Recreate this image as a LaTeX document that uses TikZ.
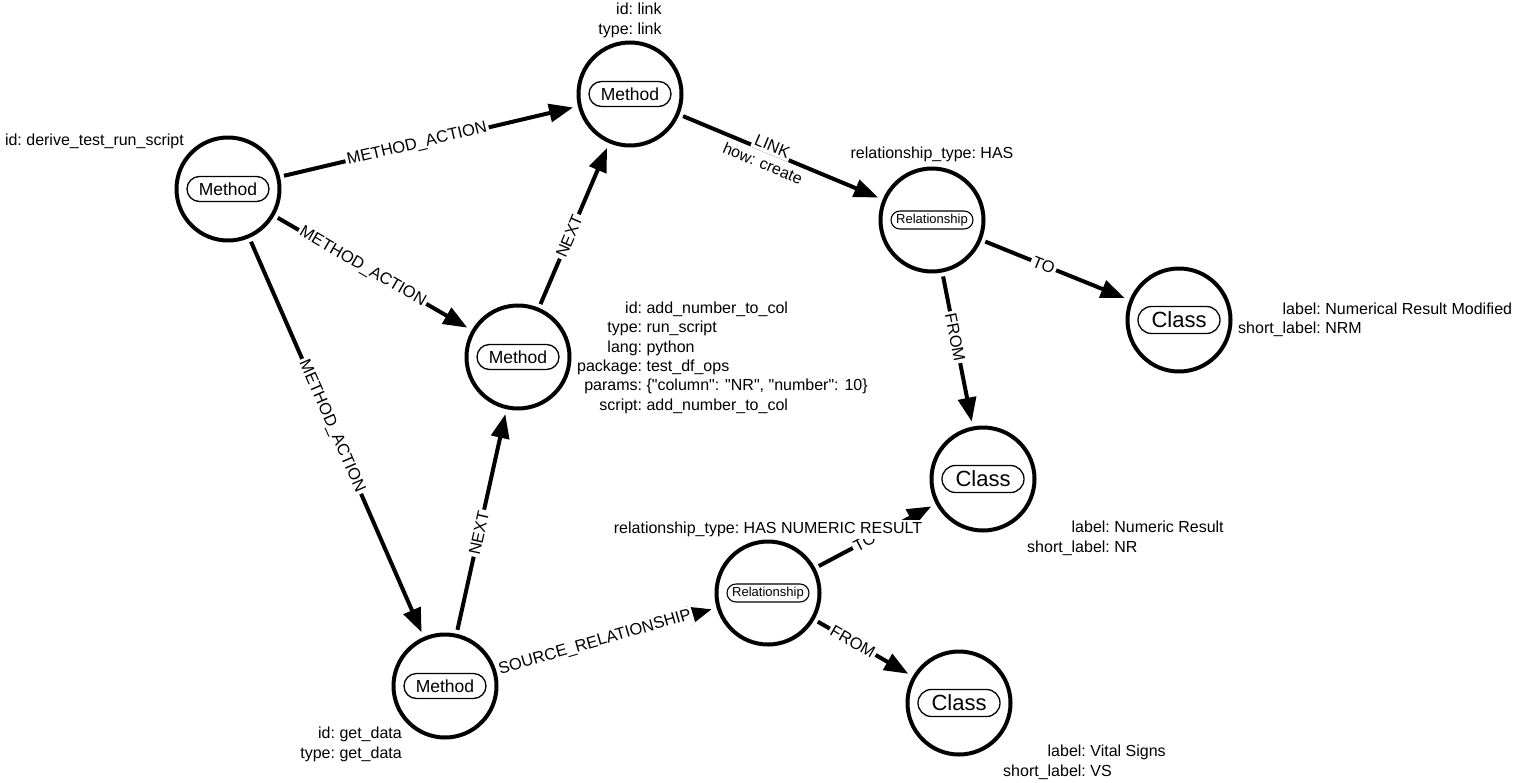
\documentclass[tikz,border=0pt]{standalone}
\usepackage{fontspec}
\setmainfont{Liberation Sans}[Ligatures=TeXOff]
\usetikzlibrary{arrows.meta,shapes.misc}

% property tables: keys right-aligned on the colon, values left-aligned
\newcommand\proptab[1]{\begin{tabular}{@{}r@{\ }l@{}}#1\end{tabular}}

\tikzset{
  ent/.style={circle, draw, line width=4pt, minimum size=103pt, inner sep=0pt},
  pill/.style={rounded rectangle, draw, line width=1.3pt, fill=white,
    minimum width=90pt, inner xsep=4pt, inner ysep=0pt},
  methodpill/.style={pill, minimum height=25pt, font=\fontsize{17.5}{20}\selectfont},
  classpill/.style={pill, minimum height=27pt, font=\fontsize{22}{24}\selectfont},
  relpill/.style={pill, minimum height=18pt, line width=1.1pt, font=\fontsize{13}{15}\selectfont},
  rel/.style={line width=4pt, -{Triangle[length=24pt,width=18pt]},
    shorten <=4pt, shorten >=5pt},
  elab/.style={sloped, fill=white, inner sep=2pt, font=\fontsize{16.5}{19}\selectfont},
  props/.style={inner sep=0pt, fill=white, font=\fontsize{16}{19.3}\selectfont},
}

\begin{document}
\begin{tikzpicture}[x=1pt,y=-1pt]
\useasboundingbox[fill=white] (0,0) rectangle (1518,782);

% entity circles
\node[ent] (A) at (228,189) {};
\node[ent] (B) at (630,94) {};
\node[ent] (C) at (932,220) {};
\node[ent] (D) at (518,357) {};
\node[ent] (E) at (1179,320) {};
\node[ent] (F) at (983,479) {};
\node[ent] (G) at (768,593) {};
\node[ent] (H) at (445,686) {};
\node[ent] (I) at (959,703) {};

% labels inside the circles
\node[methodpill] (Alab) at (A) {Method};
\node[methodpill] (Blab) at (B) {Method};
\node[relpill]    (Clab) at (C) {Relationship};
\node[methodpill] (Dlab) at (D) {Method};
\node[classpill]  (Elab) at (E) {Class};
\node[classpill]  (Flab) at (F) {Class};
\node[relpill]    (Glab) at (G) {Relationship};
\node[methodpill] (Hlab) at (H) {Method};
\node[classpill]  (Ilab) at (I) {Class};

% relationships
\draw[rel] (A) -- node[elab, pos=.46]  (eAB) {METHOD\_ACTION} (B);
\draw[rel] (A) -- node[elab, pos=.447] (eAD) {METHOD\_ACTION} (D);
\draw[rel] (A) -- node[elab, pos=.472] (eAH) {METHOD\_ACTION} (H);
\draw[rel] (D) -- node[elab, pos=.433] (eDB) {NEXT} (B);
\draw[rel] (H) -- node[elab, pos=.448] (eHD) {NEXT} (D);
\draw[rel] (B) -- node[elab, pos=.445, inner ysep=3pt, above=-4pt] (eBC) {LINK}
                  node[sloped, pos=.435, inner sep=1pt, below=4pt, font=\fontsize{16}{18}\selectfont] (eBCp) {how: create} (C);
\draw[rel] (C) -- node[elab, pos=.42]  (eCE) {TO} (E);
\draw[rel] (C) -- node[elab, pos=.42]  (eCF) {FROM} (F);
\draw[rel] (H) -- node[elab, pos=.448] (eHG) {SOURCE\_RELATIONSHIP} (G);
\draw[rel] (G) -- node[elab, pos=.41]  (eGF) {TO} (F);
\draw[rel] (G) -- node[elab, pos=.39]  (eGI) {FROM} (I);

% properties
\node[props, anchor=south east] (Aprop) at (184,151)
  {\proptab{id: & derive\_test\_run\_script}};
\node[props, anchor=south] (Bprop) at (630,40)
  {\proptab{id: & link\\ type: & link}};
\node[props, anchor=south] (Cprop) at (932,164)
  {\proptab{relationship\_type: & HAS}};
\node[props, anchor=west] (Dprop) at (577,358)
  {\proptab{id: & add\_number\_to\_col\\
            type: & run\_script\\
            lang: & python\\
            package: & test\_df\_ops\\
            params: & \{"column": "NR", "number": 10\}\\
            script: & add\_number\_to\_col}};
\node[props, anchor=west] (Eprop) at (1238,320)
  {\proptab{label: & Numerical Result Modified\\ short\_label: & NRM}};
\node[props, anchor=north west] (Fprop) at (1027,519)
  {\proptab{label: & Numeric Result\\ short\_label: & NR}};
\node[props, anchor=south] (Gprop) at (768,539)
  {\proptab{relationship\_type: & HAS NUMERIC RESULT}};
\node[props, anchor=north east] (Hprop) at (402,725)
  {\proptab{id: & get\_data\\ type: & get\_data}};
\node[props, anchor=north west] (Iprop) at (1003,743)
  {\proptab{label: & Vital Signs\\ short\_label: & VS}};
\end{tikzpicture}
\end{document}
